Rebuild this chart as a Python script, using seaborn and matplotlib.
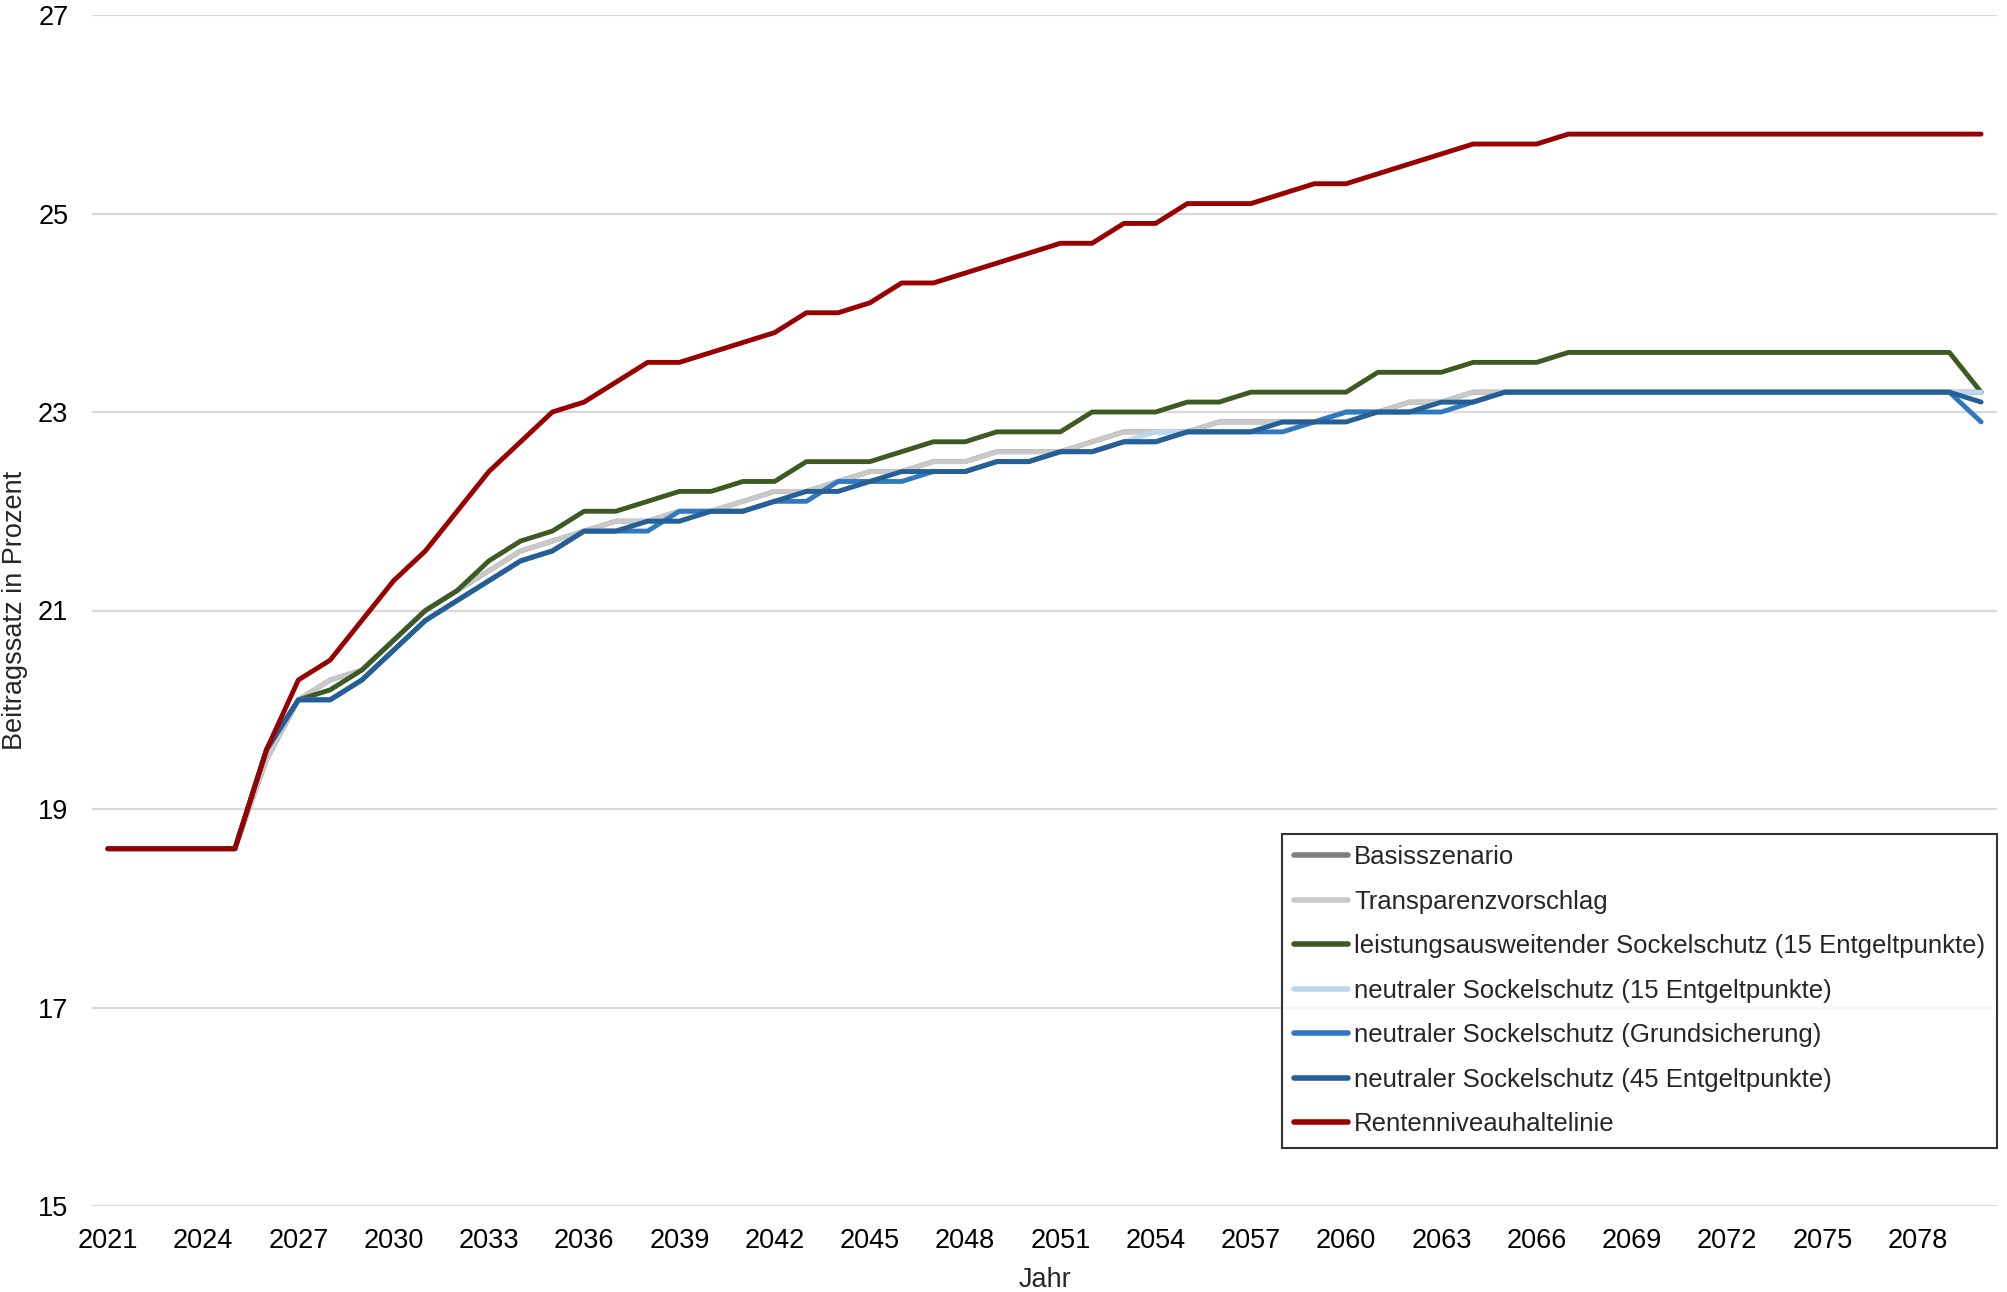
import numpy as np
import pandas as pd
import matplotlib
matplotlib.use("Agg")
import matplotlib.pyplot as plt
import seaborn as sns

years = list(range(2021, 2081))

rentenniveau = ([18.6] * 5 +
    [19.6, 20.3, 20.5, 20.9, 21.3, 21.6, 22.0, 22.4, 22.7, 23.0,
     23.1, 23.3, 23.5, 23.5, 23.6, 23.7, 23.8, 24.0, 24.0, 24.1,
     24.3, 24.3, 24.4, 24.5, 24.6, 24.7, 24.7, 24.9, 24.9, 25.1,
     25.1, 25.1, 25.2, 25.3, 25.3, 25.4, 25.5, 25.6, 25.7, 25.7,
     25.7] + [25.8] * 14)

leistung15 = ([18.6] * 5 +
    [19.6, 20.1, 20.2, 20.4, 20.7, 21.0, 21.2, 21.5, 21.7, 21.8,
     22.0, 22.0, 22.1, 22.2, 22.2, 22.3, 22.3, 22.5, 22.5, 22.5,
     22.6, 22.7, 22.7, 22.8, 22.8, 22.8, 23.0, 23.0, 23.0, 23.1,
     23.1, 23.2, 23.2, 23.2, 23.2, 23.4, 23.4, 23.4, 23.5, 23.5,
     23.5] + [23.6] * 13 + [23.2])

transparenz = ([18.6] * 5 +
    [19.5, 20.1, 20.3, 20.4, 20.7, 21.0, 21.2, 21.4, 21.6, 21.7,
     21.8, 21.9, 21.9, 22.0, 22.0, 22.1, 22.2, 22.2, 22.3, 22.4,
     22.4, 22.5, 22.5, 22.6, 22.6, 22.6, 22.7, 22.8, 22.8, 22.8,
     22.9, 22.9, 22.9, 22.9, 23.0, 23.0, 23.1, 23.1, 23.2] + [23.2] * 16)

basis = list(transparenz)

neutral45 = ([18.6] * 5 +
    [19.6, 20.1, 20.1, 20.3, 20.6, 20.9, 21.1, 21.3, 21.5, 21.6,
     21.8, 21.8, 21.9, 21.9, 22.0, 22.0, 22.1, 22.2, 22.2, 22.3,
     22.4, 22.4, 22.4, 22.5, 22.5, 22.6, 22.6, 22.7, 22.7, 22.8,
     22.8, 22.8, 22.9, 22.9, 22.9, 23.0, 23.0, 23.1, 23.1] + [23.2] * 15 + [23.1])

grundsicherung = ([18.6] * 5 +
    [19.6, 20.1, 20.1, 20.3, 20.6, 20.9, 21.1, 21.3, 21.5, 21.6,
     21.8, 21.8, 21.8, 22.0, 22.0, 22.0, 22.1, 22.1, 22.3, 22.3,
     22.3, 22.4, 22.4, 22.5, 22.5, 22.6, 22.6, 22.7, 22.7, 22.8,
     22.8, 22.8, 22.8, 22.9, 23.0, 23.0, 23.0, 23.0, 23.1] + [23.2] * 15 + [22.9])

neutral15 = ([18.6] * 5 +
    [19.6, 20.1, 20.1, 20.3, 20.6, 20.9, 21.1, 21.3, 21.5, 21.6,
     21.8, 21.8, 21.9, 21.9, 22.0, 22.0, 22.1, 22.2, 22.2, 22.3,
     22.4, 22.4, 22.4, 22.5, 22.5, 22.6, 22.6, 22.7, 22.8, 22.8,
     22.8, 22.8, 22.9, 22.9, 22.9, 23.0, 23.0, 23.1, 23.1] + [23.2] * 16)

labels = [
    "Basisszenario",
    "Transparenzvorschlag",
    "leistungsausweitender Sockelschutz (15 Entgeltpunkte)",
    "neutraler Sockelschutz (15 Entgeltpunkte)",
    "neutraler Sockelschutz (Grundsicherung)",
    "neutraler Sockelschutz (45 Entgeltpunkte)",
    "Rentenniveauhaltelinie",
]
colors = ["#7f7f7f", "#c9c9c9", "#3d5a23", "#bdd7ee", "#3179bf", "#255f95", "#990000"]
series = [basis, transparenz, leistung15, neutral15, grundsicherung, neutral45, rentenniveau]

frames = []
for lab, vals in zip(labels, series):
    frames.append(pd.DataFrame({"Jahr": years, "Wert": vals, "Szenario": lab}))
df = pd.concat(frames, ignore_index=True)

sns.set_style("white")
plt.rcParams["font.family"] = ["Liberation Sans", "DejaVu Sans"]

fig = plt.figure(figsize=(20.08, 12.92), dpi=100)
ax = fig.add_axes([92 / 2008, 1 - 1206 / 1292, (1997 - 92) / 2008, (1206 - 15) / 1292])

sns.lineplot(data=df, x="Jahr", y="Wert", hue="Szenario", hue_order=labels,
             palette=dict(zip(labels, colors)), linewidth=3.5, ax=ax,
             solid_capstyle="round", solid_joinstyle="round")

ax.set_xlim(2020.5, 2080.5)
ax.set_ylim(15, 27)
ax.set_yticks(range(15, 28, 2))
ax.set_xticks(range(2021, 2079, 3))
ax.yaxis.grid(True, color="#d9d9d9", linewidth=1.6)
ax.xaxis.grid(False)
ax.set_axisbelow(True)
for s in ax.spines.values():
    s.set_visible(False)
ax.tick_params(axis="y", length=0, pad=17, labelsize=19.5, labelcolor="black")
ax.tick_params(axis="x", length=0, pad=16, labelsize=19.5, labelcolor="black")
ax.set_xlabel("Jahr", fontsize=19.5, labelpad=9.5)
ax.set_ylabel("Beitragssatz in Prozent", fontsize=19.5, labelpad=7)

leg = ax.legend(loc="lower right", bbox_to_anchor=(1.0, 0.0487), borderaxespad=0,
                fontsize=18.5, frameon=True, fancybox=False, edgecolor="black",
                handlelength=2.1, handletextpad=0.25, labelspacing=0.8,
                borderpad=0.45)
leg.get_frame().set_linewidth(1.5)
for line in leg.get_lines():
    line.set_linewidth(4)

fig.savefig("out.png", dpi=100)
